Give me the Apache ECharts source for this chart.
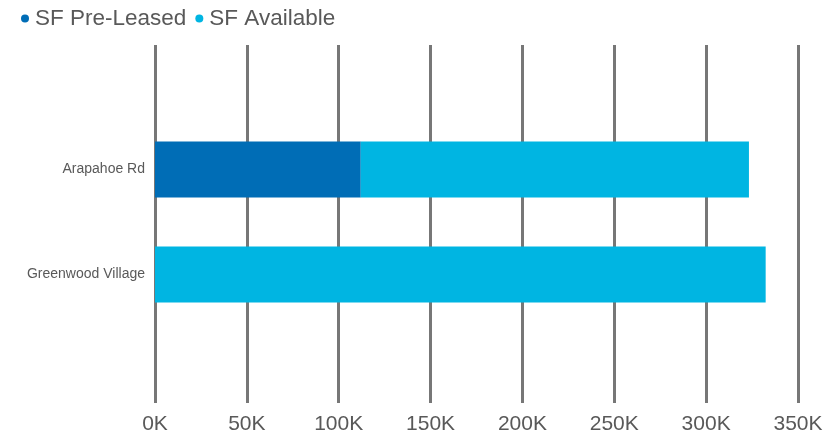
<!DOCTYPE html>
<html>
<head>
<meta charset="utf-8">
<script src="https://cdn.jsdelivr.net/npm/echarts@6/dist/echarts.min.js"></script>
<style>
  html, body { margin: 0; padding: 0; background: #ffffff; }
  #chart { width: 837px; height: 435px; }
</style>
</head>
<body>
<div id="chart"></div>
<script>
// Square footage by site
const categories = ['Arapahoe Rd', 'Greenwood Village'];
const preLeased = [112000, 0];
const available = [211300, 332400];
const seriesNames = ['SF Pre-Leased', 'SF Available'];
const axisMax = 350000;
const axisStep = 50000;

const FONT = '"Liberation Sans", Arial, sans-serif';
const TEXT = '#595959';

const chart = echarts.init(document.getElementById('chart'));
chart.setOption({
  animation: false,
  textStyle: { fontFamily: FONT },
  legend: {
    data: seriesNames,
    left: 16,
    top: 2,
    icon: 'circle',
    itemWidth: 10,
    itemHeight: 8,
    itemGap: 9,
    textStyle: { fontSize: 22.5, color: TEXT, fontFamily: FONT }
  },
  grid: [
    // full-height grid carrying the vertical gridlines and tick labels
    { left: 155, right: 39, top: 45, bottom: 30, containLabel: false },
    // grid holding the bars
    { left: 155, right: 39, top: 117, height: 210, containLabel: false }
  ],
  xAxis: [
    {
      gridIndex: 0, type: 'value', min: 0, max: axisMax, interval: axisStep,
      axisLine: { show: false }, axisTick: { show: false },
      splitLine: { show: true, lineStyle: { color: '#777777', width: 3 } },
      axisLabel: {
        margin: 11, fontSize: 21, color: TEXT, fontFamily: FONT,
        formatter: v => (v / 1000) + 'K'
      }
    },
    {
      gridIndex: 1, type: 'value', min: 0, max: axisMax, interval: axisStep,
      show: false, splitLine: { show: false }
    }
  ],
  yAxis: [
    { gridIndex: 0, type: 'value', show: false, splitLine: { show: false } },
    {
      gridIndex: 1, type: 'category', data: categories, inverse: true,
      axisLine: { show: false }, axisTick: { show: false },
      axisLabel: { margin: 10, fontSize: 14, color: TEXT, fontFamily: FONT }
    }
  ],
  series: [
    {
      name: seriesNames[0], type: 'bar', stack: 'sf',
      xAxisIndex: 1, yAxisIndex: 1, barWidth: 56,
      itemStyle: { color: '#006DB6' },
      data: preLeased
    },
    {
      name: seriesNames[1], type: 'bar', stack: 'sf',
      xAxisIndex: 1, yAxisIndex: 1, barWidth: 56,
      itemStyle: { color: '#00B5E2' },
      data: available
    }
  ]
});
</script>
</body>
</html>
